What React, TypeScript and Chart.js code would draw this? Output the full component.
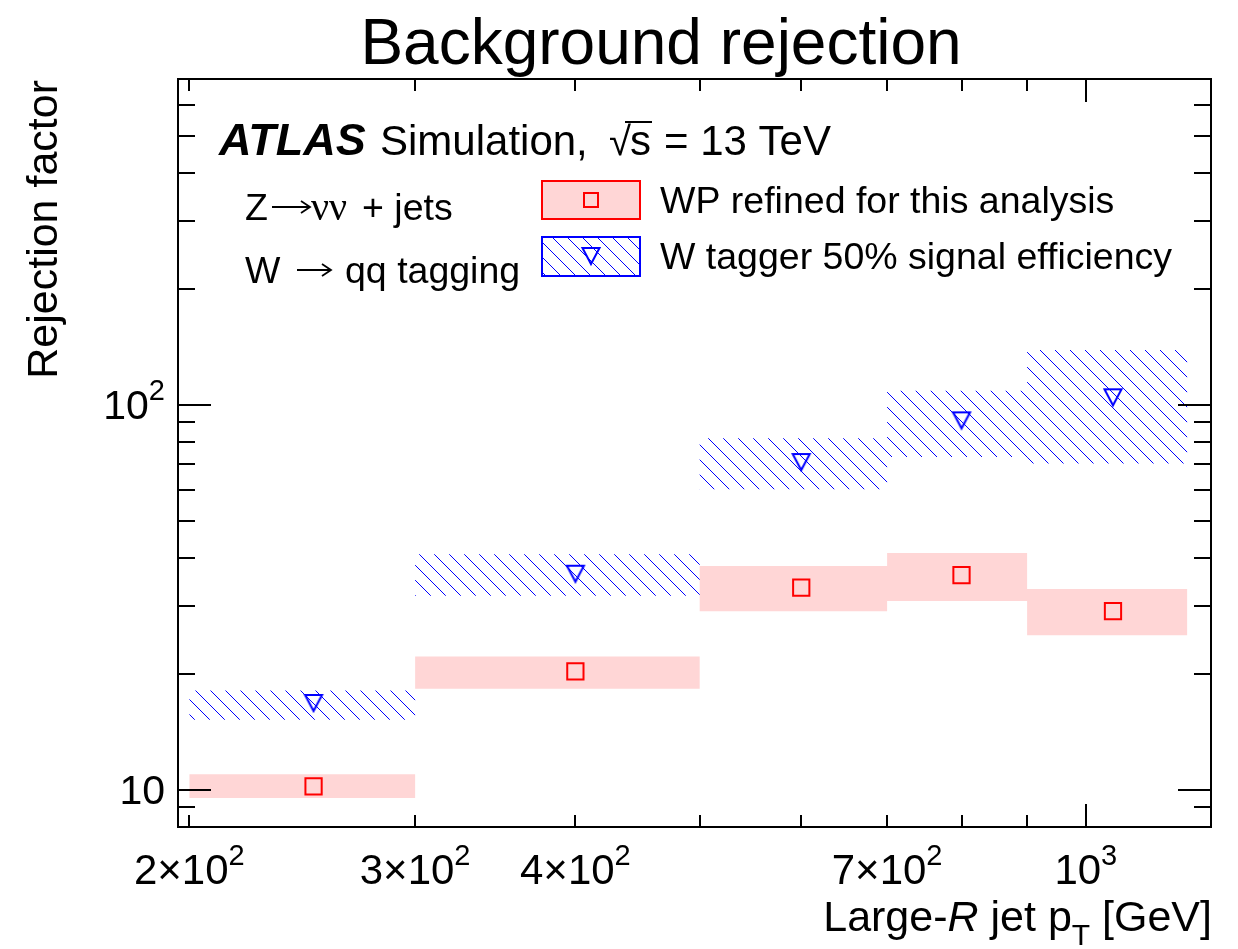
import React, { useEffect, useRef } from "react";
import { Chart, registerables } from "chart.js";

Chart.register(...registerables);

// ---- data ----
const binEdges = [200, 300, 500, 700, 900, 1200];
const binCenters = [250, 400, 600, 800, 1050];

const wpValues = [10.2, 20.3, 33.5, 36.1, 29.1];
const wpUp = [10.96, 22.2, 38.1, 41.2, 33.2];
const wpDown = [9.51, 18.3, 29.1, 30.9, 25.2];

const wtagValues = [16.8, 36.4, 71.0, 91.1, 104.6];
const wtagUp = [18.1, 40.9, 81.8, 108.7, 138.8];
const wtagDown = [15.2, 31.9, 60.3, 73.2, 70.4];

const xMinorTicks = [200, 300, 400, 500, 600, 700, 800, 900];
const xMajorTicks = [1000];
const xLabelValues = [200, 300, 400, 700, 1000];
const xLabelBase = ["2×10", "3×10", "4×10", "7×10", "10"];
const xLabelExp = ["2", "2", "2", "2", "3"];

const yMajorTicks = [10, 100];
const yMinorTicks = [8, 9, 20, 30, 40, 50, 60, 70, 80, 90, 200, 300, 400, 500, 600, 700];
const yLabelValues = [10, 100];
const yLabelBase = ["10", "10"];
const yLabelExp = ["", "2"];

const FONT = '"Liberation Sans", Arial, Helvetica, sans-serif';
const SERIF = '"Liberation Serif", "Times New Roman", serif';
const PINK = "#ffd6d6";
const RED = "#ff0000";
const BLUE = "#0000ff";

function stepPoints(vals: number[]) {
  const pts = vals.map((v, i) => ({ x: binEdges[i], y: v }));
  pts.push({ x: binEdges[binEdges.length - 1], y: vals[vals.length - 1] });
  return pts;
}

function makeHatch(): CanvasPattern | string {
  const pc = document.createElement("canvas");
  const n = 15;
  pc.width = n;
  pc.height = n;
  const g = pc.getContext("2d");
  if (!g) return BLUE;
  g.fillStyle = BLUE;
  for (let i = 0; i < n; i++) g.fillRect(i, i, 1, 1);
  const p = g.createPattern(pc, "repeat");
  return p || BLUE;
}

function makeTriangle(): HTMLCanvasElement {
  const c = document.createElement("canvas");
  c.width = 22;
  c.height = 22;
  const g = c.getContext("2d");
  if (g) {
    g.strokeStyle = BLUE;
    g.lineWidth = 2;
    g.lineJoin = "miter";
    g.beginPath();
    g.moveTo(2.5, 3);
    g.lineTo(19.5, 3);
    g.lineTo(11, 19);
    g.closePath();
    g.stroke();
  }
  return c;
}

function drawSup(
  ctx: CanvasRenderingContext2D,
  base: string,
  exp: string,
  x: number,
  y: number,
  size: number,
  align: "left" | "center" | "right"
) {
  const ss = Math.round(size * 0.7);
  ctx.font = `${size}px ${FONT}`;
  const wb = ctx.measureText(base).width;
  ctx.font = `${ss}px ${FONT}`;
  const we = exp ? ctx.measureText(exp).width : 0;
  const total = wb + we;
  const x0 = align === "center" ? x - total / 2 : align === "right" ? x - total : x;
  ctx.textAlign = "left";
  ctx.textBaseline = "alphabetic";
  ctx.font = `${size}px ${FONT}`;
  ctx.fillText(base, x0, y);
  if (exp) {
    ctx.font = `${ss}px ${FONT}`;
    ctx.fillText(exp, x0 + wb, y - size * 0.45);
  }
}

function drawArrow(ctx: CanvasRenderingContext2D, x0: number, x1: number, y: number) {
  ctx.save();
  ctx.strokeStyle = "#000";
  ctx.lineWidth = 1.8;
  ctx.beginPath();
  ctx.moveTo(x0, y);
  ctx.lineTo(x1, y);
  ctx.moveTo(x1 - 9, y - 6);
  ctx.lineTo(x1, y);
  ctx.lineTo(x1 - 9, y + 6);
  ctx.stroke();
  ctx.restore();
}

export default function App() {
  const ref = useRef<HTMLCanvasElement | null>(null);

  useEffect(() => {
    const canvas = ref.current;
    if (!canvas) return;
    const hatch = makeHatch();
    const tri = makeTriangle();

    const decor = {
      id: "atlasDecor",
      afterDraw(chart: any) {
        const ctx: CanvasRenderingContext2D = chart.ctx;
        const { left, right, top, bottom } = chart.chartArea;
        const xs = chart.scales.x;
        const ys = chart.scales.y;
        ctx.save();
        ctx.fillStyle = "#000";
        ctx.strokeStyle = "#000";
        ctx.lineWidth = 2;
        ctx.lineCap = "butt";

        // ticks
        ctx.beginPath();
        yMajorTicks.forEach((v) => {
          const p = Math.round(ys.getPixelForValue(v));
          ctx.moveTo(left, p);
          ctx.lineTo(left + 33, p);
          ctx.moveTo(right, p);
          ctx.lineTo(right - 33, p);
        });
        yMinorTicks.forEach((v) => {
          const p = Math.round(ys.getPixelForValue(v));
          if (p <= top + 1 || p >= bottom - 1) return;
          ctx.moveTo(left, p);
          ctx.lineTo(left + 17, p);
          ctx.moveTo(right, p);
          ctx.lineTo(right - 17, p);
        });
        xMinorTicks.forEach((v) => {
          const p = Math.round(xs.getPixelForValue(v));
          ctx.moveTo(p, bottom);
          ctx.lineTo(p, bottom - 12);
          ctx.moveTo(p, top);
          ctx.lineTo(p, top + 12);
        });
        xMajorTicks.forEach((v) => {
          const p = Math.round(xs.getPixelForValue(v));
          ctx.moveTo(p, bottom);
          ctx.lineTo(p, bottom - 23);
          ctx.moveTo(p, top);
          ctx.lineTo(p, top + 23);
        });
        ctx.stroke();

        // frame
        ctx.strokeRect(left, top, right - left, bottom - top);

        // tick labels
        xLabelValues.forEach((v, i) => {
          drawSup(ctx, xLabelBase[i], xLabelExp[i], xs.getPixelForValue(v), 884, 42, "center");
        });
        yLabelValues.forEach((v, i) => {
          drawSup(ctx, yLabelBase[i], yLabelExp[i], 165, ys.getPixelForValue(v) + 14, 41, "right");
        });

        // title
        ctx.font = `64px ${FONT}`;
        ctx.textAlign = "center";
        ctx.textBaseline = "alphabetic";
        ctx.fillText("Background rejection", 661, 64);

        // y axis title
        ctx.save();
        ctx.translate(57, 80);
        ctx.rotate(-Math.PI / 2);
        ctx.font = `43px ${FONT}`;
        ctx.textAlign = "right";
        ctx.fillText("Rejection factor", 0, 0);
        ctx.restore();

        // x axis title: Large-R jet p_T [GeV]
        {
          const fs = 43;
          const sub = 30;
          const parts: { t: string; font: string; dy: number }[] = [
            { t: "Large-", font: `${fs}px ${FONT}`, dy: 0 },
            { t: "R", font: `italic ${fs}px ${FONT}`, dy: 0 },
            { t: " jet p", font: `${fs}px ${FONT}`, dy: 0 },
            { t: "T", font: `${sub}px ${FONT}`, dy: 14 },
            { t: " [GeV]", font: `${fs}px ${FONT}`, dy: 0 },
          ];
          let total = 0;
          const widths = parts.map((p) => {
            ctx.font = p.font;
            const w = ctx.measureText(p.t).width;
            total += w;
            return w;
          });
          let x = 1212 - total;
          ctx.textAlign = "left";
          parts.forEach((p, i) => {
            ctx.font = p.font;
            ctx.fillText(p.t, x, 931 + p.dy);
            x += widths[i];
          });
        }

        // ATLAS label
        const base1 = 155;
        ctx.textAlign = "left";
        ctx.font = `italic bold 45px ${FONT}`;
        ctx.fillText("ATLAS", 219, base1);
        ctx.font = `42px ${FONT}`;
        ctx.fillText("Simulation,", 380, base1);
        ctx.font = `40px ${FONT}`;
        ctx.fillText("√", 609, base1);
        ctx.font = `42px ${FONT}`;
        ctx.fillText("s", 630, base1);
        ctx.beginPath();
        ctx.lineWidth = 2;
        ctx.moveTo(625, base1 - 33);
        ctx.lineTo(652, base1 - 33);
        ctx.stroke();
        ctx.fillText("= 13 TeV", 664, base1);

        // process labels
        const F = `37.5px ${FONT}`;
        ctx.textAlign = "left";
        ctx.font = F;
        ctx.fillText("Z", 245, 220);
        drawArrow(ctx, 272, 310, 207);
        ctx.font = `40px ${SERIF}`;
        ctx.fillText("νν", 311, 220);
        ctx.font = F;
        ctx.fillText("+ jets", 362, 220);

        ctx.fillText("W", 245, 283);
        drawArrow(ctx, 297, 331, 270);
        ctx.font = F;
        ctx.fillText("qq tagging", 345, 283);

        // legend
        ctx.fillStyle = PINK;
        ctx.fillRect(542, 181, 98, 38);
        ctx.strokeStyle = RED;
        ctx.lineWidth = 2;
        ctx.strokeRect(542, 181, 98, 38);
        ctx.strokeRect(584, 193, 14, 14);

        ctx.fillStyle = hatch as any;
        ctx.fillRect(542, 237, 98, 39);
        ctx.strokeStyle = BLUE;
        ctx.strokeRect(542, 237, 98, 39);
        ctx.drawImage(tri, 591 - 11, 256 - 11);

        ctx.fillStyle = "#000";
        ctx.font = F;
        ctx.fillText("WP refined for this analysis", 660, 213);
        ctx.fillText("W tagger 50% signal efficiency", 660, 269);

        ctx.restore();
      },
    };

    const chart = new Chart(canvas, {
      type: "line",
      data: {
        datasets: [
          {
            label: "W tagger band up",
            data: stepPoints(wtagUp),
            stepped: true,
            fill: "+1",
            backgroundColor: hatch as any,
            borderColor: "rgba(0,0,0,0)",
            borderWidth: 0,
            pointRadius: 0,
            order: 2,
          },
          {
            label: "W tagger band down",
            data: stepPoints(wtagDown),
            stepped: true,
            fill: false,
            borderColor: "rgba(0,0,0,0)",
            borderWidth: 0,
            pointRadius: 0,
            order: 2,
          },
          {
            label: "WP band up",
            data: stepPoints(wpUp),
            stepped: true,
            fill: "+1",
            backgroundColor: PINK,
            borderColor: "rgba(0,0,0,0)",
            borderWidth: 0,
            pointRadius: 0,
            order: 2,
          },
          {
            label: "WP band down",
            data: stepPoints(wpDown),
            stepped: true,
            fill: false,
            borderColor: "rgba(0,0,0,0)",
            borderWidth: 0,
            pointRadius: 0,
            order: 2,
          },
          {
            label: "WP refined for this analysis",
            data: binCenters.map((x, i) => ({ x, y: wpValues[i] })),
            showLine: false,
            pointStyle: "rect",
            pointRadius: 11.5,
            pointBorderWidth: 2,
            pointBorderColor: RED,
            pointBackgroundColor: "rgba(0,0,0,0)",
            order: 0,
          },
          {
            label: "W tagger 50% signal efficiency",
            data: binCenters.map((x, i) => ({ x, y: wtagValues[i] })),
            showLine: false,
            pointStyle: tri as any,
            pointRadius: 11,
            order: 0,
          },
        ],
      },
      options: {
        animation: false,
        responsive: false,
        devicePixelRatio: 1,
        layout: { padding: { left: 178, right: 27, top: 79, bottom: 122 } },
        plugins: {
          legend: { display: false },
          tooltip: { enabled: false },
          title: { display: false },
        },
        scales: {
          x: { type: "logarithmic", min: 196, max: 1252, display: false },
          y: { type: "logarithmic", min: 8, max: 702, display: false },
        },
      },
      plugins: [decor],
    });

    return () => chart.destroy();
  }, []);

  return (
    <div style={{ position: "absolute", left: 0, top: 0, width: 1238, height: 949, background: "#fff" }}>
      <canvas ref={ref} width={1238} height={949} style={{ display: "block" }} />
    </div>
  );
}
